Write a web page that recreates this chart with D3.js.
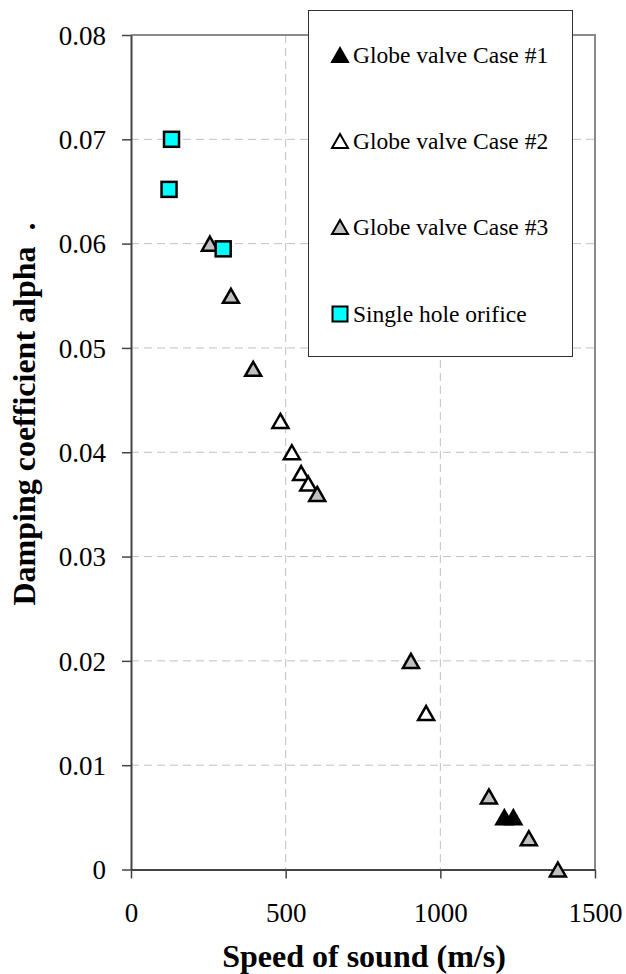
<!DOCTYPE html>
<html>
<head>
<meta charset="utf-8">
<script src="https://cdn.jsdelivr.net/npm/d3@7/dist/d3.min.js"></script>
<style>
html,body{margin:0;padding:0;background:#fff;}
svg{display:block;}
text{font-family:"Liberation Serif","Times New Roman",Tinos,serif;fill:#000;}
</style>
</head>
<body>
<svg id="chart" width="626" height="974"></svg>
<script>
// ---- data ----
const case1Speed = [1207, 1236];
const case1Alpha = [0.005, 0.005];
const case2Speed = [483, 520, 550, 573, 954];
const case2Alpha = [0.043, 0.040, 0.038, 0.037, 0.015];
const case3Speed = [255, 323, 395, 602, 905, 1157, 1286, 1380];
const case3Alpha = [0.060, 0.055, 0.048, 0.036, 0.020, 0.007, 0.003, 0.000];
const orificeSpeed = [131, 123, 298];
const orificeAlpha = [0.070, 0.0652, 0.0595];
const xTicks = [0, 500, 1000, 1500];
const xTickLabels = ["0", "500", "1000", "1500"];
const yTicks = [0, 0.01, 0.02, 0.03, 0.04, 0.05, 0.06, 0.07, 0.08];
const yTickLabels = ["0", "0.01", "0.02", "0.03", "0.04", "0.05", "0.06", "0.07", "0.08"];
const seriesNames = ["Globe valve Case #1", "Globe valve Case #2", "Globe valve Case #3", "Single hole orifice"];
const xTitle = "Speed of sound (m/s)";
const yTitle = "Damping coefficient alpha  .";

const series = [
  {name: seriesNames[0], xs: case1Speed, ys: case1Alpha, shape: "tri", fill: "#000000"},
  {name: seriesNames[1], xs: case2Speed, ys: case2Alpha, shape: "tri", fill: "#ffffff"},
  {name: seriesNames[2], xs: case3Speed, ys: case3Alpha, shape: "tri", fill: "#c0c0c0"},
  {name: seriesNames[3], xs: orificeSpeed, ys: orificeAlpha, shape: "sq", fill: "#00ffff"}
];

const FONT = '"Liberation Serif","Times New Roman",Tinos,serif';
const svg = d3.select("#chart");
const L = 131, R = 595, T = 35, B = 869.5;
const x = d3.scaleLinear().domain([0, 1500]).range([L, R]);
const y = d3.scaleLinear().domain([0, 0.08]).range([B, T]);

// gridlines
const grid = svg.append("g");
grid.selectAll("line.h").data(yTicks.filter(v => v > 0 && v < 0.08)).join("line")
  .attr("x1", L).attr("x2", R).attr("y1", d => y(d)).attr("y2", d => y(d))
  .attr("stroke", "#c0c0c0").attr("stroke-width", 1).attr("stroke-dasharray", "8,5");
grid.selectAll("line.v").data(xTicks.filter(v => v > 0 && v < 1500)).join("line")
  .attr("y1", T).attr("y2", B).attr("x1", d => x(d)).attr("x2", d => x(d))
  .attr("stroke", "#c0c0c0").attr("stroke-width", 1).attr("stroke-dasharray", "8,5");

// plot border (top/right)
svg.append("path").attr("d", `M${L},${T}H${R}V${B}`).attr("fill", "none")
  .attr("stroke", "#8a8a8a").attr("stroke-width", 2);

// axes
const xAxis = d3.axisBottom(x).tickValues(xTicks).tickFormat((d, i) => xTickLabels[i]).tickSize(9).tickSizeOuter(0);
const yAxis = d3.axisLeft(y).tickValues(yTicks).tickFormat((d, i) => yTickLabels[i]).tickSize(9).tickSizeOuter(0);

const gx = svg.append("g").attr("transform", `translate(0,${B})`).call(xAxis).attr("font-family", FONT);
gx.select(".domain").attr("stroke", "#444").attr("stroke-width", 2);
gx.selectAll(".tick line").attr("stroke", "#444").attr("stroke-width", 1.5);
gx.selectAll(".tick text").attr("font-size", 27).style("font-family", FONT)
  .attr("dy", null).attr("y", 52).attr("fill", "#000");

const gy = svg.append("g").attr("transform", `translate(${L},0)`).call(yAxis).attr("font-family", FONT);
gy.select(".domain").attr("stroke", "#444").attr("stroke-width", 2);
gy.selectAll(".tick line").attr("stroke", "#444").attr("stroke-width", 1.5);
gy.selectAll(".tick text").attr("font-size", 27).style("font-family", FONT)
  .attr("x", -25).attr("dy", "0.34em").attr("fill", "#000");

// markers
function triPath(w, h) {
  return `M0,${-h/2}L${w/2},${h/2}L${-w/2},${h/2}Z`;
}
function drawMarker(g, s, cx, cy, sw) {
  if (s.shape === "tri") {
    g.append("path").attr("d", triPath(16, 14)).attr("transform", `translate(${cx},${cy})`)
      .attr("fill", s.fill).attr("stroke", "#000").attr("stroke-width", sw).attr("stroke-linejoin", "miter");
  } else {
    g.append("rect").attr("x", cx - 7.5).attr("y", cy - 7.5).attr("width", 15).attr("height", 15)
      .attr("fill", s.fill).attr("stroke", "#000").attr("stroke-width", sw);
  }
}
const marks = svg.append("g");
series.forEach(s => {
  const g = marks.append("g");
  s.xs.forEach((v, i) => drawMarker(g, s, x(v), y(s.ys[i]), 2.5));
});

// legend
const lg = svg.append("g");
lg.append("rect").attr("x", 308.5).attr("y", 10.5).attr("width", 264).attr("height", 346)
  .attr("fill", "#fff").attr("stroke", "#333").attr("stroke-width", 1);
const legY = [55, 141, 227, 314];
series.forEach((s, i) => {
  drawMarker(lg, s, 340, legY[i], 2);
  lg.append("text").attr("x", 353).attr("y", legY[i]).attr("dy", "0.33em")
    .attr("font-size", 23.5).style("font-family", FONT).text(s.name);
});

// axis titles
svg.append("text").attr("x", 364).attr("y", 967).attr("text-anchor", "middle")
  .attr("font-size", 32).attr("font-weight", "bold").style("font-family", FONT).text(xTitle);
svg.append("text").attr("transform", `translate(35,414) rotate(-90)`)
  .attr("text-anchor", "middle").attr("font-size", 32).attr("font-weight", "bold")
  .style("font-family", FONT).style("white-space", "pre").text(yTitle);
</script>
</body>
</html>
